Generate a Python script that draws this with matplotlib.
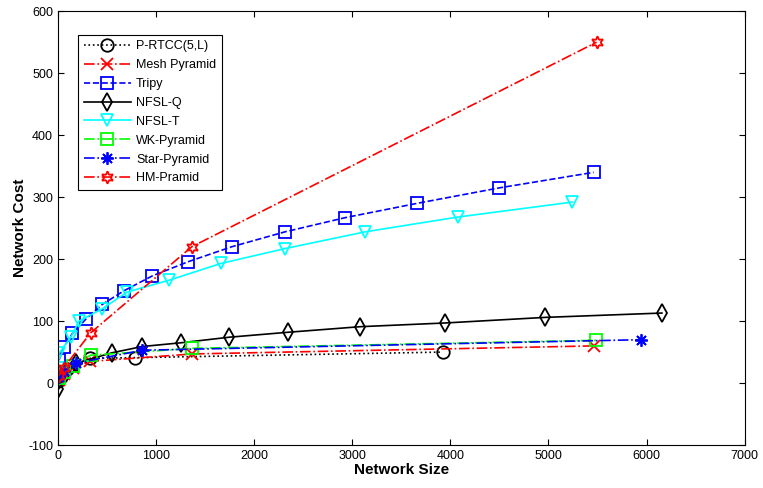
import matplotlib
matplotlib.use("Agg")
import matplotlib.pyplot as plt

plt.rcParams['font.family'] = ['Liberation Sans', 'DejaVu Sans']
plt.rcParams['axes.unicode_minus'] = False

# Data
prtcc_x = [0, 90, 330, 780, 3920]
prtcc_y = [3, 22, 40, 41, 50]

mesh_x = [10, 60, 150, 330, 1370, 5460]
mesh_y = [5, 15, 25, 35, 47, 60]

tripy_x = [10, 60, 146, 283, 452, 673, 962, 1330, 1772, 2313, 2930, 3660, 4500, 5460]
tripy_y = [37, 58, 80, 103, 127, 149, 173, 196, 220, 244, 267, 290, 315, 340]

nfslq_x = [5, 80, 180, 554, 860, 1252, 1745, 2345, 3082, 3949, 4966, 6156]
nfslq_y = [-10, 16, 32, 49, 59, 65, 74, 82, 91, 97, 106, 113]

nfslt_x = [0, 10, 130, 214, 452, 707, 1133, 1660, 2313, 3130, 4080, 5240]
nfslt_y = [24, 48, 74, 100, 120, 147, 166, 193, 217, 244, 268, 292]

wk_x = [10, 60, 150, 333, 1370, 5486]
wk_y = [8, 18, 28, 45, 56, 69]

star_x = [10, 60, 180, 860, 5946]
star_y = [10, 20, 32, 53, 70]

hm_x = [10, 60, 333, 1364, 5490]
hm_y = [12, 25, 81, 220, 550]

series = [
    ("P-RTCC(5,L)", prtcc_x, prtcc_y, 'k', ':', 'o'),
    ("Mesh Pyramid", mesh_x, mesh_y, '#ff0000', '-.', 'x'),
    ("Tripy", tripy_x, tripy_y, '#0000ff', '--', 's'),
    ("NFSL-Q", nfslq_x, nfslq_y, 'k', '-', 'd'),
    ("NFSL-T", nfslt_x, nfslt_y, '#00ffff', '-', 'v'),
    ("WK-Pyramid", wk_x, wk_y, '#00ff00', '-.', 's'),
    ("Star-Pyramid", star_x, star_y, '#0000ff', '-.', (8, 2, 0)),
    ("HM-Pramid", hm_x, hm_y, '#ff0000', '-.', (6, 1, 0)),
]

fig = plt.figure(figsize=(7.63, 4.88), dpi=100)
ax = fig.add_axes([0.076, 0.088, 0.9, 0.889])

for name, xs, ys, c, ls, mk in series:
    ax.plot(xs, ys, color=c, linestyle=ls, marker=mk, markersize=9,
            markerfacecolor='none', markeredgecolor=c, markeredgewidth=1.3,
            linewidth=1.2, label=name)

ax.set_xlim(0, 7000)
ax.set_ylim(-100, 600)
ax.set_xticks(range(0, 7001, 1000))
ax.set_yticks(range(-100, 601, 100))
ax.tick_params(direction='in', top=True, right=True, labelsize=9, length=4)
ax.set_xlabel("Network Size", fontsize=11, fontweight='bold', labelpad=1)
ax.set_ylabel("Network Cost", fontsize=11, fontweight='bold', labelpad=1)

leg = ax.legend(loc='upper left', bbox_to_anchor=(0.029, 0.946), fontsize=9,
                handlelength=3.8, fancybox=False, framealpha=1, edgecolor='k',
                borderpad=0.45, labelspacing=0.55, handletextpad=0.4,
                borderaxespad=0)
leg.get_frame().set_linewidth(0.8)

fig.savefig("out.png", dpi=100)
